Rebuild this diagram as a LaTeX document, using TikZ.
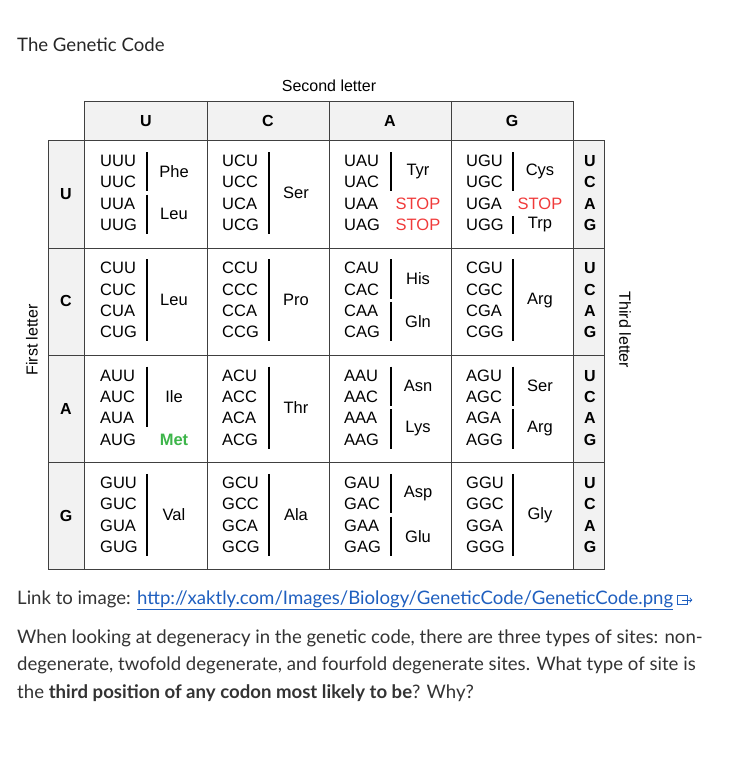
\documentclass[tikz,border=0pt]{standalone}
\usepackage{fontspec}
\setmainfont{Liberation Sans}
\newfontfamily\latof{Lato}
\begin{document}
\begin{tikzpicture}[x=1pt,y=-1pt,
  cod/.style={anchor=west,inner sep=0pt,font=\fontsize{16.5}{18}\selectfont},
  aa/.style={inner sep=0pt,font=\fontsize{16.5}{18}\selectfont},
  hd/.style={inner sep=0pt,font=\fontsize{16}{18}\selectfont\bfseries},
  grid/.style={draw=black!75,line width=0.9pt},
  bar/.style={line width=1.4pt},
  prose/.style={anchor=west,inner sep=0pt,text=black!80,font=\latof\fontsize{18.6}{20}\selectfont}]
\useasboundingbox (0,0) rectangle (738,757);
\definecolor{hdr}{HTML}{F2F2F2}
\definecolor{stopred}{HTML}{F03A3A}
\definecolor{metgreen}{HTML}{3DB54A}
\definecolor{linkblue}{HTML}{1F5FBF}
% backgrounds
\fill[hdr] (84,101) rectangle (573,140);
\fill[hdr] (48,140) rectangle (84,569);
\fill[hdr] (573,140) rectangle (604,569);
% grid
\draw[grid] (84,101) rectangle (573,569);
\draw[grid] (48,140) rectangle (604,569);
\foreach \x in {207,329,451} \draw[grid] (\x,101) -- (\x,569);
\draw[grid] (84,101) -- (84,569);
\draw[grid] (573,140) -- (573,569);
\foreach \y in {248,355,462} \draw[grid] (48,\y) -- (604,\y);
% titles
\node[prose,text=black!85] (title) at (17,45) {The Genetic Code};
\node[inner sep=0pt,font=\fontsize{16}{18}\selectfont] (second) at (329,86) {Second letter};
\node[inner sep=0pt,rotate=90,font=\fontsize{16}{18}\selectfont] (first) at (32,340) {First letter};
\node[inner sep=0pt,rotate=-90,font=\fontsize{16}{18}\selectfont] (third) at (625,330) {Third letter};
% headers
\foreach \L [count=\i from 0] in {U,C,A,G}{
  \pgfmathsetmacro{\cx}{146+122*\i}
  \node[hd] (col\L) at (\cx,121) {\L};
  \pgfmathsetmacro{\ry}{140+107.3*\i}
  \node[hd] (row\L) at (66,\ry+54) {\L};
  \foreach \T [count=\k from 0] in {U,C,A,G}{
    \node[hd] (third\L\T) at (590,\ry+21+21.3*\k) {\T};
  }
}
% codons
\foreach \R [count=\i from 0] in {U,C,A,G}{
  \foreach \S [count=\j from 0] in {U,C,A,G}{
    \foreach \T [count=\k from 0] in {U,C,A,G}{
      \node[cod] (c\R\S\T) at (100+122*\j,140+107.3*\i+21+21.3*\k) {\R\S\T};
    }
  }
}
% groups
\newcommand\grp[5]{%
  \pgfmathsetmacro{\bx}{147+122*#2}%
  \pgfmathsetmacro{\ya}{140+107.3*#1+21+21.3*#3-9}%
  \pgfmathsetmacro{\yb}{140+107.3*#1+21+21.3*#4+9}%
  \draw[bar] (\bx,\ya) -- (\bx,\yb);
  \node[aa] at (\bx+27,{(\ya+\yb)/2}) {#5};}
\newcommand\single[5]{%
  \pgfmathsetmacro{\ya}{140+107.3*#1+21+21.3*#3}%
  \node[aa,#4] at (174+122*#2,\ya) {#5};}
\grp{0}{0}{0}{1}{Phe}\grp{0}{0}{2}{3}{Leu}
\grp{0}{1}{0}{3}{Ser}
\grp{0}{2}{0}{1}{Tyr}\single{0}{2}{2}{text=stopred}{STOP}\single{0}{2}{3}{text=stopred}{STOP}
\grp{0}{3}{0}{1}{Cys}\single{0}{3}{2}{text=stopred}{STOP}\grp{0}{3}{3}{3}{Trp}
\grp{1}{0}{0}{3}{Leu}\grp{1}{1}{0}{3}{Pro}\grp{1}{2}{0}{1}{His}\grp{1}{2}{2}{3}{Gln}\grp{1}{3}{0}{3}{Arg}
\grp{2}{0}{0}{2}{Ile}\single{2}{0}{3}{text=metgreen,font=\fontsize{16.5}{18}\selectfont\bfseries}{Met}
\grp{2}{1}{0}{3}{Thr}\grp{2}{2}{0}{1}{Asn}\grp{2}{2}{2}{3}{Lys}\grp{2}{3}{0}{1}{Ser}\grp{2}{3}{2}{3}{Arg}
\grp{3}{0}{0}{3}{Val}\grp{3}{1}{0}{3}{Ala}\grp{3}{2}{0}{1}{Asp}\grp{3}{2}{2}{3}{Glu}\grp{3}{3}{0}{3}{Gly}
% prose
\node[prose] (link) at (17,600) {Link to image: \textcolor{linkblue}{\underline{http://xaktly.com/Images/Biology/GeneticCode/GeneticCode.png}}};
\draw[linkblue,line width=0.9pt] ([xshift=4pt,yshift=-4pt]link.east) rectangle ([xshift=14pt,yshift=5pt]link.east);
\draw[linkblue,line width=0.9pt,->] ([xshift=9pt]link.east) -- ([xshift=19pt]link.east);
\node[prose] (p1) at (17,638) {When looking at degeneracy in the genetic code, there are three types of sites: non-};
\node[prose] (p2) at (17,665) {degenerate, twofold degenerate, and fourfold degenerate sites. What type of site is};
\node[prose] (p3) at (17,693) {the \textbf{third position of any codon most likely to be}? Why?};
\end{tikzpicture}
\end{document}
